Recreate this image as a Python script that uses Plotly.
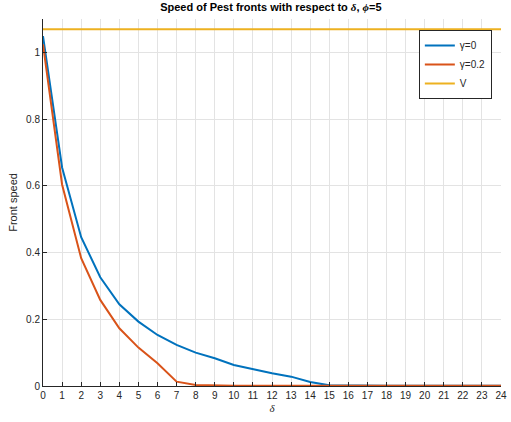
import plotly.graph_objects as go

delta = list(range(0, 25))
speed_g0 = [1.049, 0.655, 0.446, 0.326, 0.245, 0.193, 0.153, 0.123, 0.100, 0.083,
            0.063, 0.050, 0.038, 0.028, 0.012, 0.002, 0.001, 0.001, 0.001, 0.001,
            0.001, 0.001, 0.001, 0.001, 0.001]
speed_g02 = [1.024, 0.604, 0.383, 0.258, 0.173, 0.115, 0.068, 0.013, 0.003, 0.001,
             0.001, 0.001, 0.001, 0.001, 0.001, 0.001, 0.001, 0.001, 0.001, 0.001,
             0.001, 0.001, 0.001, 0.001, 0.001]
V = 1.069
x_ticks = list(range(0, 25))
y_ticks = [0, 0.2, 0.4, 0.6, 0.8, 1.0]
y_tick_labels = ["0", "0.2", "0.4", "0.6", "0.8", "1"]

fig = go.Figure()
fig.add_trace(go.Scatter(x=delta, y=speed_g0, mode="lines", name="γ=0",
                         line=dict(color="#0072BD", width=2)))
fig.add_trace(go.Scatter(x=delta, y=speed_g02, mode="lines", name="γ=0.2",
                         line=dict(color="#D95319", width=2)))
fig.add_trace(go.Scatter(x=[delta[0], delta[-1]], y=[V, V], mode="lines", name="V",
                         line=dict(color="#EDB120", width=2)))

fig.update_layout(
    width=511, height=422,
    margin=dict(l=43, r=4, t=19, b=36),
    paper_bgcolor="white", plot_bgcolor="white",
    font=dict(family="Liberation Sans, Arial, sans-serif", size=10, color="#262626"),
    title=dict(text="<b>Speed of Pest fronts with respect to <i style='font-family:Liberation Serif,serif'>δ</i>, <i style='font-family:Liberation Serif,serif'>ϕ</i>=5</b>",
               x=0.53, xanchor="center", y=0.993, yanchor="top",
               font=dict(size=11, color="black")),
    showlegend=True,
    legend=dict(x=0.98, xanchor="right", y=0.97, yanchor="top",
                bgcolor="white", bordercolor="#262626", borderwidth=1,
                font=dict(size=10, color="#262626"),
                tracegroupgap=0, itemwidth=30),
    xaxis=dict(range=[0, 24], tickmode="array", tickvals=x_ticks,
               showgrid=True, gridcolor="#E3E3E3", gridwidth=1,
               showline=True, linecolor="#262626", linewidth=1,
               ticks="inside", ticklen=4, tickcolor="#262626",
               zeroline=False, ticklabeloverflow="allow",
               title=dict(text="<i style='font-family:Liberation Serif,serif'>δ</i>", standoff=4,
                          font=dict(size=11))),
    yaxis=dict(range=[0, 1.1], tickmode="array", tickvals=y_ticks, ticktext=y_tick_labels,
               showgrid=True, gridcolor="#E3E3E3", gridwidth=1,
               showline=True, linecolor="#262626", linewidth=1,
               ticks="inside", ticklen=4, tickcolor="#262626",
               zeroline=False,
               title=dict(text="Front speed", standoff=6, font=dict(size=11))),
)

fig.write_html("out.html")
